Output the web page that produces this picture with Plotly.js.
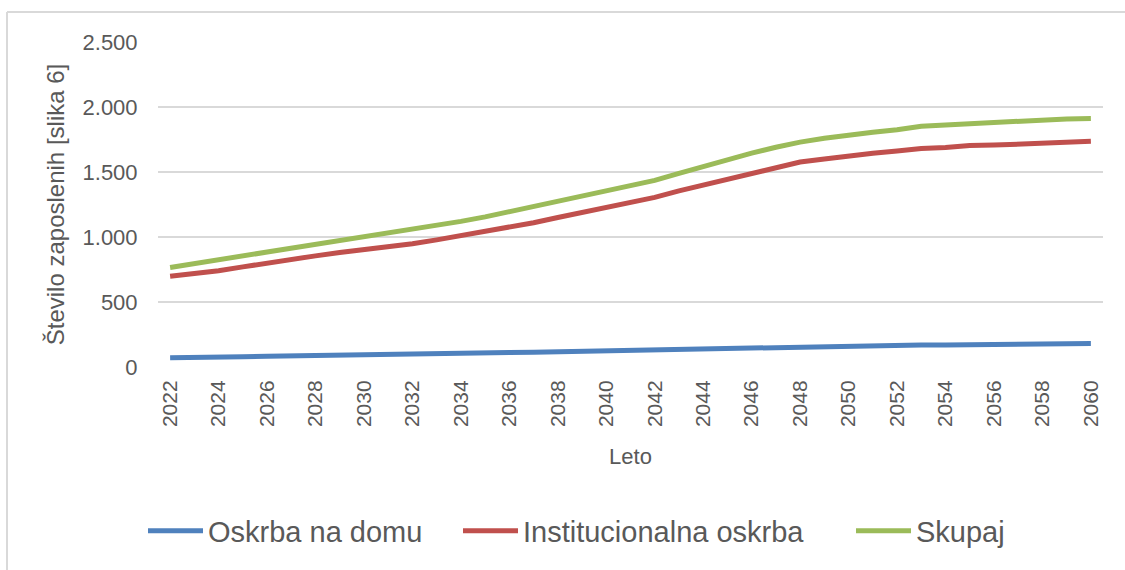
<!DOCTYPE html>
<html>
<head>
<meta charset="utf-8">
<script src="https://cdn.plot.ly/plotly-3.0.1.min.js"></script>
<style>
  html, body { margin: 0; padding: 0; background: #ffffff; }
  #chart { width: 1125px; height: 570px; }
</style>
</head>
<body>
<div id="chart"></div>
<script>
const years = [2022,2023,2024,2025,2026,2027,2028,2029,2030,2031,2032,2033,2034,2035,2036,2037,2038,2039,2040,2041,2042,2043,2044,2045,2046,2047,2048,2049,2050,2051,2052,2053,2054,2055,2056,2057,2058,2059,2060];

const oskrbaNaDomu = [72,72,73,78,82,84,86,88,92,94,96,100,104,107,111,114,118,121,124,128,131,135,140,145,150,154,157,160,162,166,168,170,170,170,171,172,176,179,180];

const institucionalnaOskrba = [698,718,740,770,800,828,855,880,900,925,948,978,1010,1040,1075,1110,1150,1190,1225,1265,1305,1355,1400,1450,1495,1540,1577,1600,1625,1645,1662,1680,1688,1703,1707,1715,1723,1732,1736];

const skupaj = [766,795,823,856,888,915,940,970,1000,1030,1055,1085,1120,1155,1195,1235,1275,1315,1355,1395,1435,1490,1545,1595,1645,1690,1730,1760,1785,1805,1825,1852,1862,1872,1882,1892,1900,1908,1911];

const seriesNames = ["Oskrba na domu", "Institucionalna oskrba", "Skupaj"];
const yTickVals = [0, 500, 1000, 1500, 2000, 2500];
const yTickText = ["0", "500", "1.000", "1.500", "2.000", "2.500"];
const xTitle = "Leto";
const yTitle = "Število zaposlenih [slika 6]";

const FONT = "Liberation Sans, Arial, sans-serif";
const TXT = "#595959";
const colors = ["#4F81BD", "#C0504D", "#9BBB59"];
const seriesData = [oskrbaNaDomu, institucionalnaOskrba, skupaj];
const legendIds = ["legend", "legend2", "legend3"];

const traces = seriesData.map((vals, i) => ({
  type: "scatter",
  mode: "lines",
  x: years,
  y: vals,
  name: seriesNames[i],
  line: { color: colors[i], width: 5, shape: "linear" },
  legend: legendIds[i],
  hoverinfo: "x+y+name"
}));

const L = 158, R = 1103, T = 42, B = 367;
const px2x = p => (p - L) / (R - L);
const px2y = p => (B - p) / (B - T);

function legendCfg(xpx) {
  return {
    orientation: "h",
    x: px2x(xpx), xanchor: "left",
    y: px2y(531), yanchor: "middle",
    font: { family: FONT, size: 29, color: TXT },
    bgcolor: "rgba(0,0,0,0)",
    borderwidth: 0,
    itemwidth: 55,
    traceorder: "normal"
  };
}

const layout = {
  width: 1125,
  height: 570,
  margin: { l: L, r: 1125 - R, t: T, b: 570 - B, pad: 0 },
  paper_bgcolor: "#ffffff",
  plot_bgcolor: "#ffffff",
  font: { family: FONT, color: TXT },
  showlegend: true,
  legend: legendCfg(143),
  legend2: legendCfg(458),
  legend3: legendCfg(851),
  xaxis: {
    type: "linear",
    range: [2021.5, 2060.5],
    tickmode: "linear",
    tick0: 2022,
    dtick: 2,
    tickangle: -90,
    tickfont: { family: FONT, size: 21, color: TXT },
    ticks: "outside",
    ticklen: 4,
    tickcolor: "rgba(0,0,0,0)",
    showgrid: false,
    zeroline: false,
    showline: false,
    title: { text: xTitle, font: { family: FONT, size: 22, color: TXT }, standoff: 22 }
  },
  yaxis: {
    range: [0, 2500],
    tickmode: "array",
    tickvals: yTickVals,
    ticktext: yTickText,
    tickfont: { family: FONT, size: 22, color: TXT },
    ticks: "outside",
    ticklen: 15,
    tickcolor: "rgba(0,0,0,0)",
    showgrid: true,
    gridcolor: "#D9D9D9",
    gridwidth: 2,
    zeroline: false,
    showline: false,
    title: { text: yTitle, font: { family: FONT, size: 24, color: TXT }, standoff: 11 }
  },
  shapes: [
    {
      type: "line", xref: "paper", yref: "paper",
      x0: px2x(7), x1: px2x(7), y0: px2y(575), y1: px2y(12),
      line: { color: "#D9D9D9", width: 2 }
    },
    {
      type: "line", xref: "paper", yref: "paper",
      x0: px2x(7), x1: px2x(1130), y0: px2y(12), y1: px2y(12),
      line: { color: "#D9D9D9", width: 2 }
    }
  ]
};

Plotly.newPlot("chart", traces, layout, { displayModeBar: false, staticPlot: true });
</script>
</body>
</html>
